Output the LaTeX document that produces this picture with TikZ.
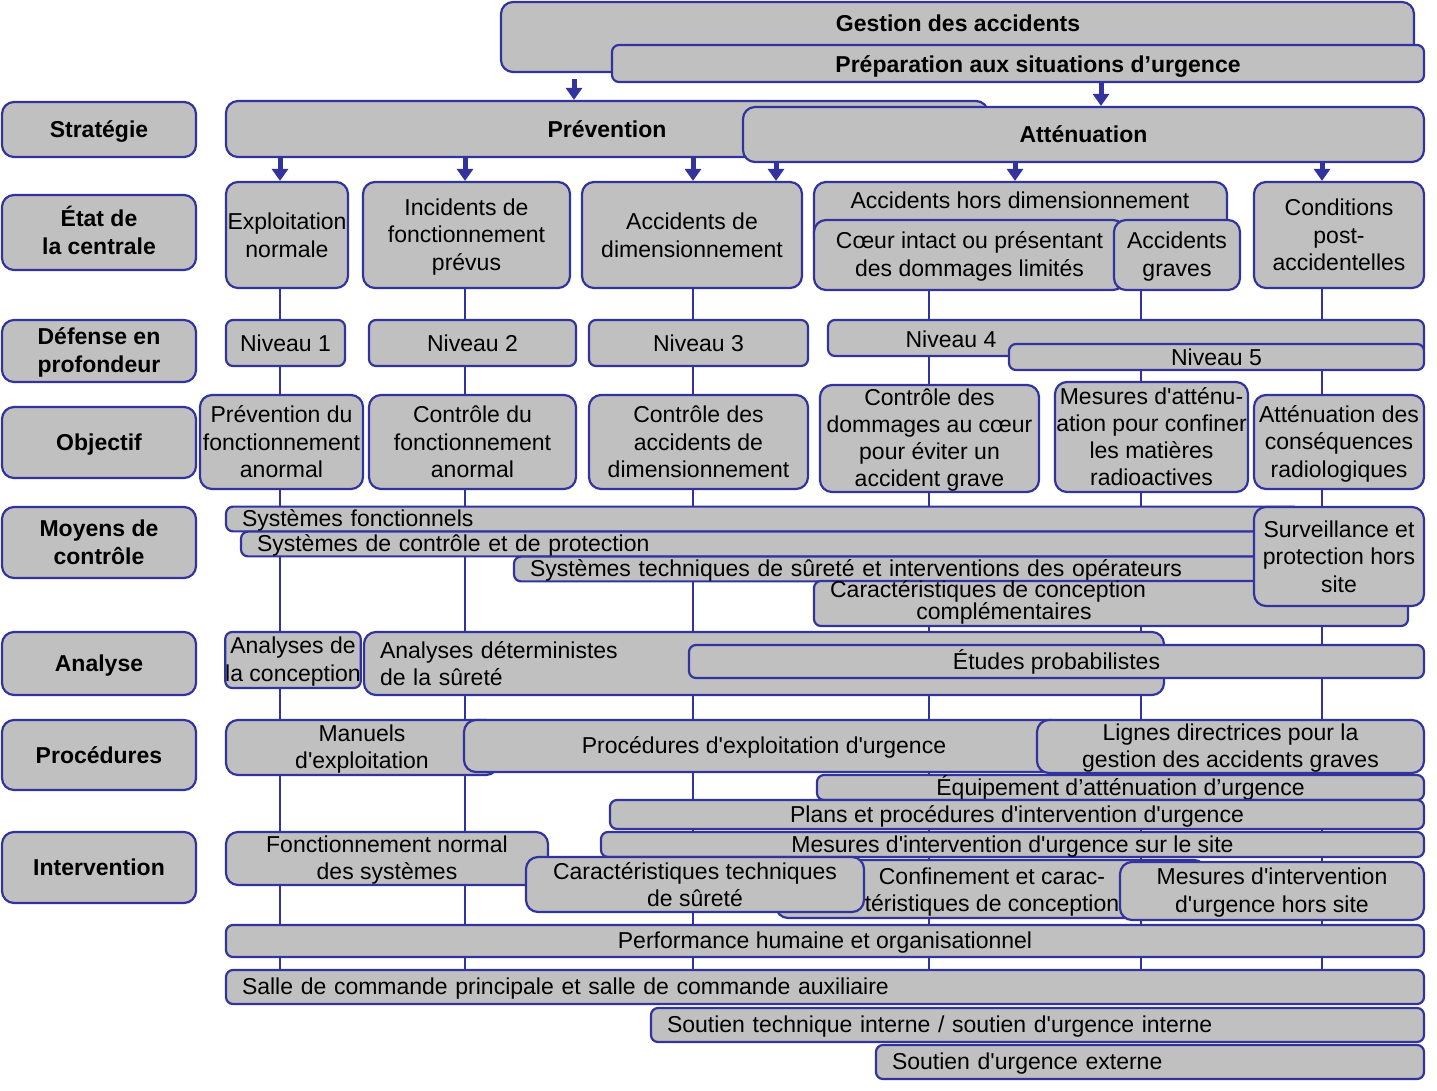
\documentclass[tikz,border=0pt]{standalone}
\usepackage{fontspec}
\setmainfont{Liberation Sans}[Ligatures=TeXOff]
\usetikzlibrary{arrows.meta}
\pgfdeclarelayer{bg}
\pgfsetlayers{bg,main}
\definecolor{bord}{RGB}{51,51,160}
\definecolor{fillg}{RGB}{192,192,192}
\tikzset{
  box/.style={draw=bord, fill=fillg, line width=2.2pt, rounded corners=12pt, inner sep=0pt,
    align=center, font=\fontsize{23}{27.5}\selectfont, text=black},
  thin/.style={rounded corners=7pt},
  head/.style={font=\bfseries\fontsize{23}{28}\selectfont},
  lefta/.style={text width=\bxtw pt, align=left, inner xsep=16pt},
  vline/.style={draw=bord, line width=2pt},
  arr/.style={draw=bord, line width=5pt, -{Triangle[width=16pt,length=12pt]}},
  lbl/.style={font=\fontsize{23}{27.5}\selectfont, align=center, inner sep=0pt, text=black}
}
\newcommand{\bx}[7][]{%
  \pgfmathsetmacro\bxw{#5-#3}%
  \pgfmathsetmacro\bxh{#6-#4}%
  \pgfmathsetmacro\bxtw{#5-#3-32}%
  \node[box,minimum width=\bxw pt,minimum height=\bxh pt,#1] (#2) at ({(#3+#5)/2},{(#4+#6)/2})
    {\rule{0pt}{20pt}#7\rule[-3.4pt]{0pt}{0pt}};}
\begin{document}
\begin{tikzpicture}[x=1pt,y=-1pt]
\useasboundingbox (0,0) rectangle (1437,1090);
\begin{pgfonlayer}{bg}
\fill[white] (0,0) rectangle (1437,1090);
\end{pgfonlayer}
% coordinates of columns
\coordinate (x280) at (280,0);
\coordinate (x465) at (465,0);
\coordinate (x693) at (693,0);
\coordinate (x929) at (929,0);
\coordinate (x1141) at (1141,0);
\coordinate (x1322) at (1322,0);
\coordinate (x574) at (574,0);
\coordinate (x1101) at (1101,0);
\coordinate (x776) at (776,0);
\coordinate (x1015) at (1015,0);

% left column
\bx[head]{hStrat}{2}{102}{196}{157}{Stratégie}
\bx[head]{hEtat}{2}{195}{196}{270}{État de\\la centrale}
\bx[head]{hDef}{2}{320}{196}{382}{Défense en\\profondeur}
\bx[head]{hObj}{2}{407}{196}{478}{Objectif}
\bx[head]{hMoy}{2}{507}{196}{578}{Moyens de\\contrôle}
\bx[head]{hAna}{2}{632}{196}{695}{Analyse}
\bx[head]{hProc}{2}{720}{196}{790}{Procédures}
\bx[head]{hInt}{2}{832}{196}{903}{Intervention}

% top
\bx{gest}{501}{2}{1414}{72}{}
\node[lbl,head] (gestT) at (958,23) {Gestion des accidents};
\bx[thin]{prep}{612}{45}{1424}{82}{}
\node[lbl,head] (prepT) at (1038,66.5) {Préparation aux situations d’urgence};
\bx[head]{prev}{226}{101}{988}{157}{Prévention}
\bx[head]{att}{743}{107}{1424}{162}{Atténuation}

% plant states
\bx{expl}{226}{182}{348}{288}{Exploitation\\normale}
\bx{inc}{363}{182}{570}{288}{Incidents de\\fonctionnement\\prévus}
\bx{adim}{582}{182}{802}{288}{Accidents de\\dimensionnement}
\bx{hors}{814}{182}{1227}{250}{}
\node[lbl] (horsT) at (1020,200) {Accidents hors dimensionnement};
\bx{coeur}{814}{220}{1125}{290}{Cœur intact ou présentant\\des dommages limités}
\bx{graves}{1114}{220}{1240}{290}{Accidents\\graves}
\bx{cond}{1254}{182}{1424}{288}{Conditions\\post-\\accidentelles}

% levels
\bx[thin]{n1}{226}{320}{345}{366}{Niveau 1}
\bx[thin]{n2}{369}{320}{576}{366}{Niveau 2}
\bx[thin]{n3}{589}{320}{808}{366}{Niveau 3}
\bx[thin]{n4}{828}{320}{1424}{356}{}
\node[lbl] (n4T) at (951,339) {Niveau 4};
\bx[thin]{n5}{1009}{344}{1424}{370}{Niveau 5}

% objectives
\bx{o1}{200}{395}{363}{489}{Prévention du\\fonctionnement\\anormal}
\bx{o2}{369}{395}{576}{489}{Contrôle du\\fonctionnement\\anormal}
\bx{o3}{589}{395}{808}{489}{Contrôle des\\accidents de\\dimensionnement}
\bx[font=\fontsize{23}{27}\selectfont]{o4}{820}{385}{1039}{492}{Contrôle des\\dommages au cœur\\pour éviter un\\accident grave}
\bx[font=\fontsize{23}{27}\selectfont]{o5}{1055}{382}{1248}{492}{Mesures d'atténu-\\ation pour confiner\\les matières\\radioactives}
\bx{o6}{1254}{395}{1424}{489}{Atténuation des\\conséquences\\radiologiques}

% means of control
\bx[thin,lefta]{sf}{226}{507}{1300}{531}{Systèmes fonctionnels}
\bx[thin,lefta]{scp}{241}{532}{1300}{556}{Systèmes de contrôle et de protection}
\bx[thin,lefta]{stso}{514}{557}{1300}{581}{Systèmes techniques de sûreté et interventions des opérateurs}
\bx[thin]{ccc}{814}{581}{1408}{626}{}
\node[lbl,font=\fontsize{23}{22}\selectfont] (cccT) at (988,602) {Caractéristiques de conception\\\hspace*{32pt}complémentaires};
\bx{surv}{1254}{507}{1424}{606}{Surveillance et\\protection hors\\site}

% analysis
\bx[thin]{adc}{226}{632}{360}{688}{Analyses de\\la conception}
\bx[lefta]{adet}{364}{632}{1164}{695}{Analyses déterministes\\de la sûreté}
\bx[thin]{eprob}{689}{645}{1424}{678}{Études probabilistes}

% procedures
\bx{man}{226}{720}{498}{775}{Manuels\\d'exploitation}
\bx{peu}{464}{720}{1064}{772}{Procédures d'exploitation d'urgence}
\bx{lig}{1037}{720}{1424}{773}{Lignes directrices pour la\\gestion des accidents graves}
\bx[thin]{equip}{817}{775}{1424}{800}{Équipement d’atténuation d’urgence}
\bx[thin]{plans}{610}{800}{1424}{829}{Plans et procédures d'intervention d'urgence}
\bx[thin]{msite}{601}{832}{1424}{857}{Mesures d'intervention d'urgence sur le site}

% intervention
\bx{fns}{226}{832}{548}{885}{Fonctionnement normal\\des systèmes}
\bx{conf}{776}{860}{1206}{918}{}
\bx{cts}{526}{857}{864}{912}{Caractéristiques techniques\\de sûreté}
\bx{mhs}{1120}{862}{1424}{920}{Mesures d'intervention\\d'urgence hors site}
\node[lbl] (confT) at (992,892) {Confinement et carac-\\téristiques de conception};

% bottom bars
\bx[thin]{perf}{226}{925}{1424}{957}{Performance humaine et organisationnel}
\bx[thin,lefta]{salle}{226}{970}{1424}{1004}{Salle de commande principale et salle de commande auxiliaire}
\bx[thin,lefta]{stech}{651}{1008}{1424}{1042}{Soutien technique interne / soutien d'urgence interne}
\bx[thin,lefta]{sext}{876}{1045}{1424}{1079}{Soutien d'urgence externe}

% vertical connectors behind the boxes
\begin{pgfonlayer}{bg}
\draw[vline] (expl.south -| x280) -- (salle.north -| x280);
\draw[vline] (inc.south -| x465) -- (salle.north -| x465);
\draw[vline] (adim.south -| x693) -- (salle.north -| x693);
\draw[vline] (coeur.south -| x929) -- (salle.north -| x929);
\draw[vline] (graves.south -| x1141) -- (salle.north -| x1141);
\draw[vline] (cond.south -| x1322) -- (salle.north -| x1322);
\end{pgfonlayer}

% arrows
\draw[arr] ([yshift=-6pt]gest.south -| x574) -- (prev.north -| x574);
\draw[arr] (prep.south -| x1101) -- (att.north -| x1101);
\draw[arr] (prev.south -| x280) -- (expl.north -| x280);
\draw[arr] (prev.south -| x465) -- (inc.north -| x465);
\draw[arr] (prev.south -| x693) -- (adim.north -| x693);
\draw[arr] (att.south -| x776) -- (adim.north -| x776);
\draw[arr] (att.south -| x1015) -- (hors.north -| x1015);
\draw[arr] (att.south -| x1322) -- (cond.north -| x1322);
\end{tikzpicture}
\end{document}
